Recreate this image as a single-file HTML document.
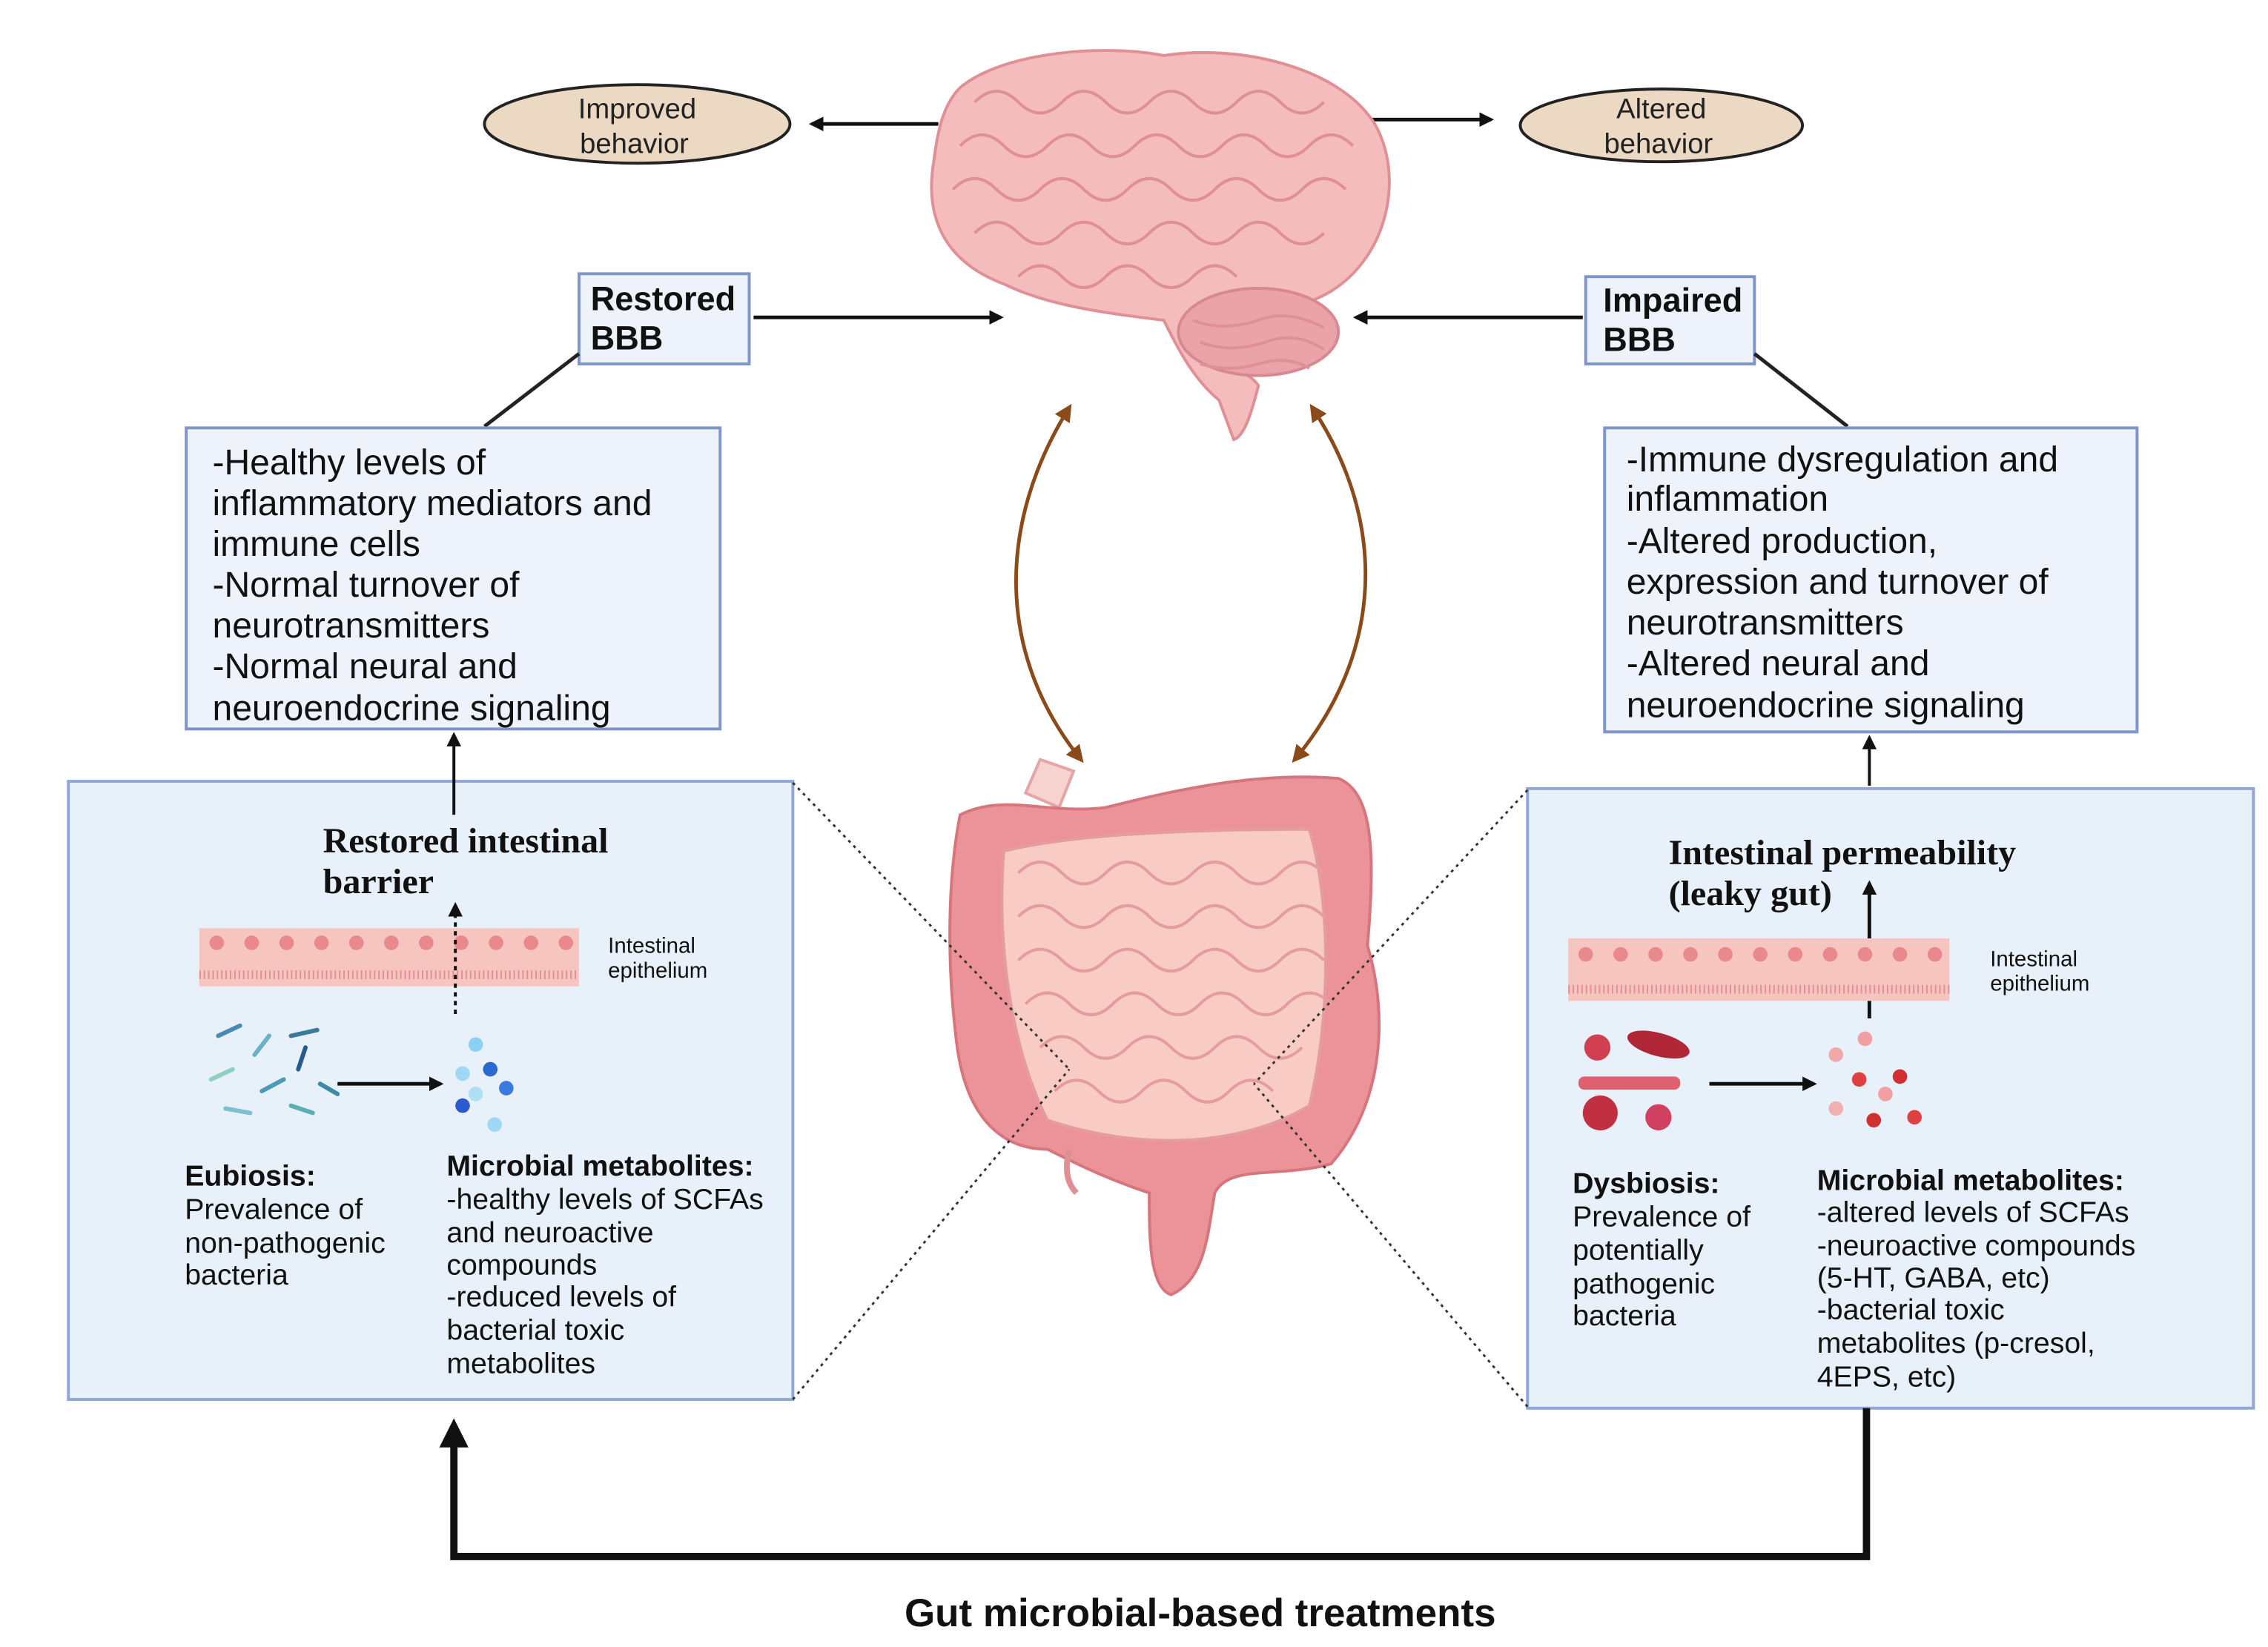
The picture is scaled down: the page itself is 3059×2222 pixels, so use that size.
<!DOCTYPE html>
<html><head><meta charset="utf-8"><style>html,body{margin:0;padding:0;background:#fff}svg{display:block}</style></head>
<body>
<svg width="3059" height="2222" viewBox="0 0 1559 1132" xmlns="http://www.w3.org/2000/svg" font-family="Liberation Sans, sans-serif">
<defs>
<marker id="ah" markerWidth="10" markerHeight="10" refX="8" refY="5" orient="auto" markerUnits="userSpaceOnUse"><path d="M0,0 L10,5 L0,10 z" fill="#111"/></marker>
<marker id="ahb" markerWidth="12" markerHeight="12" refX="9" refY="6" orient="auto" markerUnits="userSpaceOnUse"><path d="M0,0 L12,6 L0,12 z" fill="#8b4a1a"/></marker>
<marker id="ahbs" markerWidth="12" markerHeight="12" refX="3" refY="6" orient="auto" markerUnits="userSpaceOnUse"><path d="M12,0 L0,6 L12,12 z" fill="#8b4a1a"/></marker>
<marker id="ahk" markerWidth="20" markerHeight="20" refX="10" refY="10" orient="auto" markerUnits="userSpaceOnUse"><path d="M0,0 L20,10 L0,20 z" fill="#111"/></marker>
</defs>
<rect width="1559" height="1132" fill="#fff"/>
<ellipse cx="438" cy="85" rx="105" ry="27" fill="#ecd9c4" stroke="#222" stroke-width="2"/>
<text x="438" y="81" font-size="19.5" text-anchor="middle" fill="#222">Improved</text>
<text x="436" y="105" font-size="19.5" text-anchor="middle" fill="#222">behavior</text>
<ellipse cx="1142" cy="86" rx="97" ry="25" fill="#ecd9c4" stroke="#222" stroke-width="2"/>
<text x="1142" y="81" font-size="19.5" text-anchor="middle" fill="#222">Altered</text>
<text x="1140" y="105" font-size="19.5" text-anchor="middle" fill="#222">behavior</text>
<line x1="645" y1="85" x2="558" y2="85" stroke="#111" stroke-width="2.5" marker-end="url(#ah)"/>
<line x1="938" y1="82" x2="1025" y2="82" stroke="#111" stroke-width="2.5" marker-end="url(#ah)"/>
<g>
<path d="M660,60 C690,35 760,30 800,38 C850,30 920,45 945,85 C965,120 955,175 915,200 C890,215 860,215 840,210 L830,220 C820,240 860,255 865,265 C860,285 855,300 848,302 L838,275 C820,260 810,240 800,220 C760,215 720,210 690,195 C650,180 635,150 642,110 C645,85 650,70 660,60 Z" fill="#f4bcbc" stroke="#e08f95" stroke-width="2"/>
<ellipse cx="865" cy="228" rx="55" ry="30" fill="#eaa3a8" stroke="#d78890" stroke-width="2"/>
<path d="M670,70 q15,-15 30,0 q15,15 30,0 q15,-15 30,0 q15,15 30,0 q15,-15 30,0 q15,15 30,0 q15,-15 30,0 q15,15 30,0 M660,100 q15,-15 30,0 q15,15 30,0 q15,-15 30,0 q15,15 30,0 q15,-15 30,0 q15,15 30,0 q15,-15 30,0 q15,15 30,0 q15,-15 30,0 M655,130 q15,-15 30,0 q15,15 30,0 q15,-15 30,0 q15,15 30,0 q15,-15 30,0 q15,15 30,0 q15,-15 30,0 q15,15 30,0 q15,-15 30,0 M670,160 q15,-15 30,0 q15,15 30,0 q15,-15 30,0 q15,15 30,0 q15,-15 30,0 q15,15 30,0 q15,-15 30,0 q15,15 30,0 M700,190 q15,-15 30,0 q15,15 30,0 q15,-15 30,0 q15,15 30,0 q15,-15 30,0 M820,220 q20,8 45,0 q20,-8 45,5 M825,235 q20,8 45,0 q20,-8 40,5 M825,250 q20,6 40,0 q20,-6 35,3" fill="none" stroke="#df8f96" stroke-width="2"/>
</g>
<rect x="398" y="188" width="117" height="62" fill="#eef3fb" stroke="#7f95c9" stroke-width="2"/>
<text x="406" y="213" font-size="23" font-weight="bold" fill="#111">Restored</text>
<text x="406" y="240" font-size="23" font-weight="bold" fill="#111">BBB</text>
<rect x="1090" y="190" width="116" height="60" fill="#eef3fb" stroke="#7f95c9" stroke-width="2"/>
<text x="1102" y="214" font-size="23" font-weight="bold" fill="#111">Impaired</text>
<text x="1102" y="241" font-size="23" font-weight="bold" fill="#111">BBB</text>
<line x1="518" y1="218" x2="688" y2="218" stroke="#111" stroke-width="2.5" marker-end="url(#ah)"/>
<line x1="1088" y1="218" x2="932" y2="218" stroke="#111" stroke-width="2.5" marker-end="url(#ah)"/>
<line x1="398" y1="243" x2="333" y2="293" stroke="#222" stroke-width="2.5"/>
<line x1="1206" y1="243" x2="1270" y2="293" stroke="#222" stroke-width="2.5"/>
<rect x="128" y="294" width="367" height="207" fill="#eef3fb" stroke="#7f95c9" stroke-width="2"/>
<g font-size="24.5" fill="#111">
<text x="146" y="326">-Healthy levels of</text>
<text x="146" y="354">inflammatory mediators and</text>
<text x="146" y="382">immune cells</text>
<text x="146" y="410">-Normal turnover  of</text>
<text x="146" y="438">neurotransmitters</text>
<text x="146" y="466">-Normal neural and</text>
<text x="146" y="495">neuroendocrine signaling</text>
</g>
<rect x="1103" y="294" width="366" height="209" fill="#eef3fb" stroke="#7f95c9" stroke-width="2"/>
<g font-size="24.5" fill="#111">
<text x="1118" y="324">-Immune dysregulation and</text>
<text x="1118" y="351">inflammation</text>
<text x="1118" y="380">-Altered production,</text>
<text x="1118" y="408">expression and turnover of</text>
<text x="1118" y="436">neurotransmitters</text>
<text x="1118" y="464">-Altered neural and</text>
<text x="1118" y="493">neuroendocrine signaling</text>
</g>
<path d="M735,280 C685,360 685,450 743,522" fill="none" stroke="#8b4a1a" stroke-width="2.5" marker-start="url(#ahbs)" marker-end="url(#ahb)"/>
<path d="M902,280 C955,360 950,450 890,522" fill="none" stroke="#8b4a1a" stroke-width="2.5" marker-start="url(#ahbs)" marker-end="url(#ahb)"/>
<rect x="47" y="537" width="498" height="425" fill="#e8f0fa" stroke="#8fa6d6" stroke-width="2"/>
<rect x="1050" y="542" width="499" height="426" fill="#e8f0fa" stroke="#8fa6d6" stroke-width="2"/>
<g>
<path d="M705,545 L715,522 L738,530 L728,555 Z" fill="#f7d3cf" stroke="#e3a5a5" stroke-width="2"/>
<path d="M660,560 C690,545 720,560 760,555 C800,545 860,530 920,535 C945,545 945,590 940,650 C955,700 950,760 915,800 C880,810 845,800 835,820 C830,850 828,880 805,890 C790,885 790,850 790,820 C760,810 740,800 720,790 C690,790 665,770 658,720 C650,660 652,600 660,560 Z" fill="#ec9399" stroke="#d7757d" stroke-width="2"/>
<path d="M690,585 C730,575 800,570 900,570 C915,620 915,700 900,760 C850,790 780,790 720,770 C695,720 685,650 690,585 Z" fill="#f8cbc5" stroke="#e59c9e" stroke-width="2"/>
<path d="M700,600 q15,-15 30,0 q15,15 30,0 q15,-15 30,0 q15,15 30,0 q15,-15 30,0 q15,15 30,0 q15,-15 30,0 M700,630 q15,-15 30,0 q15,15 30,0 q15,-15 30,0 q15,15 30,0 q15,-15 30,0 q15,15 30,0 q15,-15 30,0 M700,660 q15,-15 30,0 q15,15 30,0 q15,-15 30,0 q15,15 30,0 q15,-15 30,0 q15,15 30,0 q15,-15 30,0 M705,690 q15,-15 30,0 q15,15 30,0 q15,-15 30,0 q15,15 30,0 q15,-15 30,0 q15,15 30,0 q15,-15 30,0 M715,720 q15,-15 30,0 q15,15 30,0 q15,-15 30,0 q15,15 30,0 q15,-15 30,0 q15,15 30,0 M725,750 q15,-15 30,0 q15,15 30,0 q15,-15 30,0 q15,15 30,0 q15,-15 30,0" fill="none" stroke="#e59c9e" stroke-width="2"/>
<path d="M735,790 q-5,20 5,30" fill="none" stroke="#e08f95" stroke-width="4"/>
</g>
<g stroke="#333" stroke-width="1.5" stroke-dasharray="2,3">
<line x1="545" y1="538" x2="735" y2="735"/>
<line x1="545" y1="962" x2="735" y2="735"/>
<line x1="1050" y1="543" x2="862" y2="745"/>
<line x1="1050" y1="967" x2="862" y2="745"/>
</g>
<line x1="312" y1="560" x2="312" y2="505" stroke="#111" stroke-width="2" marker-end="url(#ah)"/>
<text x="222" y="586" font-size="24.5" font-weight="bold" font-family="Liberation Serif, serif" fill="#111">Restored intestinal</text>
<text x="222" y="614" font-size="24.5" font-weight="bold" font-family="Liberation Serif, serif" fill="#111">barrier</text>
<rect x="137" y="638" width="261" height="40" fill="#f6c5c0"/>
<g fill="#e9898d"><circle cx="149" cy="648" r="5"/><circle cx="173" cy="648" r="5"/><circle cx="197" cy="648" r="5"/><circle cx="221" cy="648" r="5"/><circle cx="245" cy="648" r="5"/><circle cx="269" cy="648" r="5"/><circle cx="293" cy="648" r="5"/><circle cx="317" cy="648" r="5"/><circle cx="341" cy="648" r="5"/><circle cx="365" cy="648" r="5"/><circle cx="389" cy="648" r="5"/></g>
<line x1="137" y1="670" x2="398" y2="670" stroke="#e38f92" stroke-width="6" stroke-dasharray="1,2"/>
<text x="418" y="655" font-size="15" fill="#111">Intestinal</text>
<text x="418" y="672" font-size="15" fill="#111">epithelium</text>
<line x1="313" y1="697" x2="313" y2="622" stroke="#111" stroke-width="2" stroke-dasharray="3,3" marker-end="url(#ah)"/>
<g stroke-width="3" stroke-linecap="round">
<line x1="150" y1="712" x2="165" y2="705" stroke="#4a8ab0"/><line x1="175" y1="725" x2="185" y2="712" stroke="#6ab0c8"/><line x1="200" y1="712" x2="218" y2="708" stroke="#3a7a9a"/><line x1="145" y1="742" x2="160" y2="735" stroke="#8fd0c0"/><line x1="180" y1="750" x2="195" y2="742" stroke="#4a9ab8"/><line x1="205" y1="735" x2="210" y2="720" stroke="#2a5a8a"/><line x1="155" y1="762" x2="172" y2="765" stroke="#7ac0d0"/><line x1="200" y1="760" x2="215" y2="765" stroke="#5ab0b0"/><line x1="220" y1="745" x2="232" y2="752" stroke="#3a8aa8"/>
</g>
<line x1="232" y1="745" x2="303" y2="745" stroke="#111" stroke-width="2.5" marker-end="url(#ah)"/>
<g><circle cx="327" cy="718" r="5" fill="#8ad0f0"/><circle cx="318" cy="738" r="5" fill="#9ed8f4"/><circle cx="337" cy="735" r="5" fill="#2a6ad0"/><circle cx="348" cy="748" r="5" fill="#3a7ae0"/><circle cx="327" cy="752" r="5" fill="#aee0f4"/><circle cx="318" cy="760" r="5" fill="#2a5ad0"/><circle cx="340" cy="773" r="5" fill="#9ed8f4"/></g>
<g font-size="20" fill="#111">
<text x="127" y="815" font-weight="bold">Eubiosis:</text>
<text x="127" y="838">Prevalence of</text>
<text x="127" y="861">non-pathogenic</text>
<text x="127" y="883">bacteria</text>
<text x="307" y="808" font-weight="bold">Microbial metabolites:</text>
<text x="307" y="831">-healthy  levels of SCFAs</text>
<text x="307" y="854">and neuroactive</text>
<text x="307" y="876">compounds</text>
<text x="307" y="898">-reduced levels of</text>
<text x="307" y="921">bacterial toxic</text>
<text x="307" y="944">metabolites</text>
</g>
<line x1="1285" y1="540" x2="1285" y2="507" stroke="#111" stroke-width="2" marker-end="url(#ah)"/>
<text x="1147" y="594" font-size="24.5" font-weight="bold" font-family="Liberation Serif, serif" fill="#111">Intestinal permeability</text>
<text x="1147" y="622" font-size="24.5" font-weight="bold" font-family="Liberation Serif, serif" fill="#111">(leaky gut)</text>
<line x1="1285" y1="700" x2="1285" y2="607" stroke="#111" stroke-width="2.5" marker-end="url(#ah)"/>
<rect x="1078" y="645" width="262" height="43" fill="#f6c5c0"/>
<g fill="#e9898d"><circle cx="1090" cy="656" r="5"/><circle cx="1114" cy="656" r="5"/><circle cx="1138" cy="656" r="5"/><circle cx="1162" cy="656" r="5"/><circle cx="1186" cy="656" r="5"/><circle cx="1210" cy="656" r="5"/><circle cx="1234" cy="656" r="5"/><circle cx="1258" cy="656" r="5"/><circle cx="1282" cy="656" r="5"/><circle cx="1306" cy="656" r="5"/><circle cx="1330" cy="656" r="5"/></g>
<line x1="1078" y1="680" x2="1340" y2="680" stroke="#e38f92" stroke-width="6" stroke-dasharray="1,2"/>
<text x="1368" y="664" font-size="15" fill="#111">Intestinal</text>
<text x="1368" y="681" font-size="15" fill="#111">epithelium</text>
<g><circle cx="1098" cy="720" r="9" fill="#d04050"/><ellipse cx="1140" cy="718" rx="22" ry="8" fill="#b02838" transform="rotate(15 1140 718)"/><rect x="1085" y="740" width="70" height="9" rx="4" fill="#e06070"/><circle cx="1100" cy="765" r="12" fill="#c03040"/><circle cx="1140" cy="768" r="9" fill="#d04060"/></g>
<line x1="1175" y1="745" x2="1247" y2="745" stroke="#111" stroke-width="2.5" marker-end="url(#ah)"/>
<g><circle cx="1282" cy="714" r="5" fill="#f0a0a0"/><circle cx="1262" cy="725" r="5" fill="#f0a8a8"/><circle cx="1306" cy="740" r="5" fill="#d03030"/><circle cx="1278" cy="742" r="5" fill="#e04040"/><circle cx="1296" cy="752" r="5" fill="#f0a0a0"/><circle cx="1262" cy="762" r="5" fill="#f0b0b0"/><circle cx="1288" cy="770" r="5" fill="#d03030"/><circle cx="1316" cy="768" r="5" fill="#e04040"/></g>
<g font-size="20" fill="#111">
<text x="1081" y="820" font-weight="bold">Dysbiosis:</text>
<text x="1081" y="843">Prevalence of</text>
<text x="1081" y="866">potentially</text>
<text x="1081" y="889">pathogenic</text>
<text x="1081" y="911">bacteria</text>
<text x="1249" y="818" font-weight="bold">Microbial metabolites:</text>
<text x="1249" y="840">-altered levels of SCFAs</text>
<text x="1249" y="863">-neuroactive compounds</text>
<text x="1249" y="885">(5-HT, GABA, etc)</text>
<text x="1249" y="907">-bacterial toxic</text>
<text x="1249" y="930">metabolites (p-cresol,</text>
<text x="1249" y="953">4EPS, etc)</text>
</g>
<path d="M1283,968 L1283,1070 L312,1070 L312,985" fill="none" stroke="#111" stroke-width="5" marker-end="url(#ahk)"/>
<text x="825" y="1118" font-size="27" font-weight="bold" text-anchor="middle" fill="#111">Gut microbial-based treatments</text>
</svg>
</body></html>
